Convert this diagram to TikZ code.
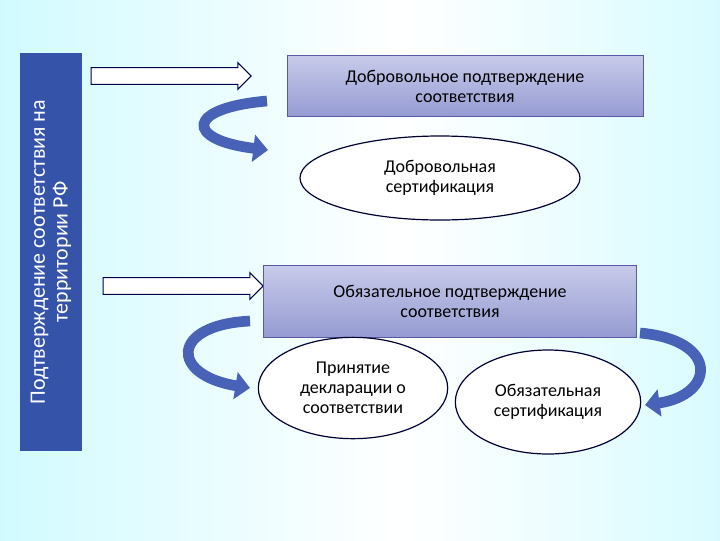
\documentclass[tikz,border=0pt]{standalone}
\usepackage{fontspec}
\setmainfont{Carlito}
\usetikzlibrary{shapes.arrows,shapes.geometric,arrows.meta}
\definecolor{barblue}{HTML}{3553A8}
\definecolor{arrblue}{HTML}{4862B8}
\definecolor{boxtop}{HTML}{C8CBEA}
\definecolor{boxbot}{HTML}{959BD2}
\tikzset{
 px/.style={x=0.75pt,y=-0.75pt},
 bigbox/.style={draw=gray!70!blue,top color=boxtop,bottom color=boxbot,font=\fontsize{13.5}{15}\selectfont,align=center,inner sep=0pt},
 oval/.style={ellipse,draw=black!80!blue,line width=0.9pt,fill=white,font=\fontsize{13.5}{15}\selectfont,align=center,inner sep=0pt},
 blockarr/.style={single arrow,draw=black!70!blue,line width=0.8pt,fill=white,minimum height=120pt,minimum width=20pt,single arrow head extend=2pt,inner sep=3pt,single arrow tip angle=90},
 curv/.style={draw=arrblue,line width=8pt,-{Triangle[width=20pt,length=11pt]}},
}
\begin{document}
\begin{tikzpicture}[px]
\useasboundingbox (0,0) rectangle (720,540);
\fill[left color=blue!10!cyan!18,right color=white] (0,0) rectangle (400,540);
\fill[left color=white,right color=blue!10!cyan!15] (400,0) rectangle (720,540);
\node[fill=barblue,minimum width=299pt,minimum height=46pt,rotate=90,text=white,align=center,font=\fontsize{16.5}{17}\selectfont,inner sep=0pt] (bar) at (51,252) {Подтверждение соответствия на\\территории РФ};
\node[blockarr] (a1) at (167,76) {};
\node[blockarr] (a2) at (179,286) {};
\node[bigbox,minimum width=267pt,minimum height=46pt] (b1) at (465,86) {Добровольное подтверждение\\соответствия};
\node[oval,minimum width=210pt,minimum height=63pt] (e1) at (440,178) {Добровольная\\сертификация};
\node[bigbox,minimum width=280pt,minimum height=54pt] (b2) at (450,301) {Обязательное подтверждение\\соответствия};
\node[oval,minimum width=142pt,minimum height=76pt] (e2) at (353,388) {Принятие\\декларации о\\соответствии};
\node[oval,minimum width=139pt,minimum height=78pt] (e3) at (548,402) {Обязательная\\сертификация};
\coordinate (c1s) at (267,101); \coordinate (c1e) at (268,150);
\coordinate (c2s) at (250,321); \coordinate (c2e) at (250,388);
\coordinate (c3s) at (640,333); \coordinate (c3e) at (645,405);
\draw[curv] (c1s) .. controls (185,108) and (185,140) .. (c1e);
\draw[curv] (c2s) .. controls (170,325) and (170,375) .. (c2e);
\draw[curv] (c3s) .. controls (720,340) and (715,395) .. (c3e);
\end{tikzpicture}
\end{document}
